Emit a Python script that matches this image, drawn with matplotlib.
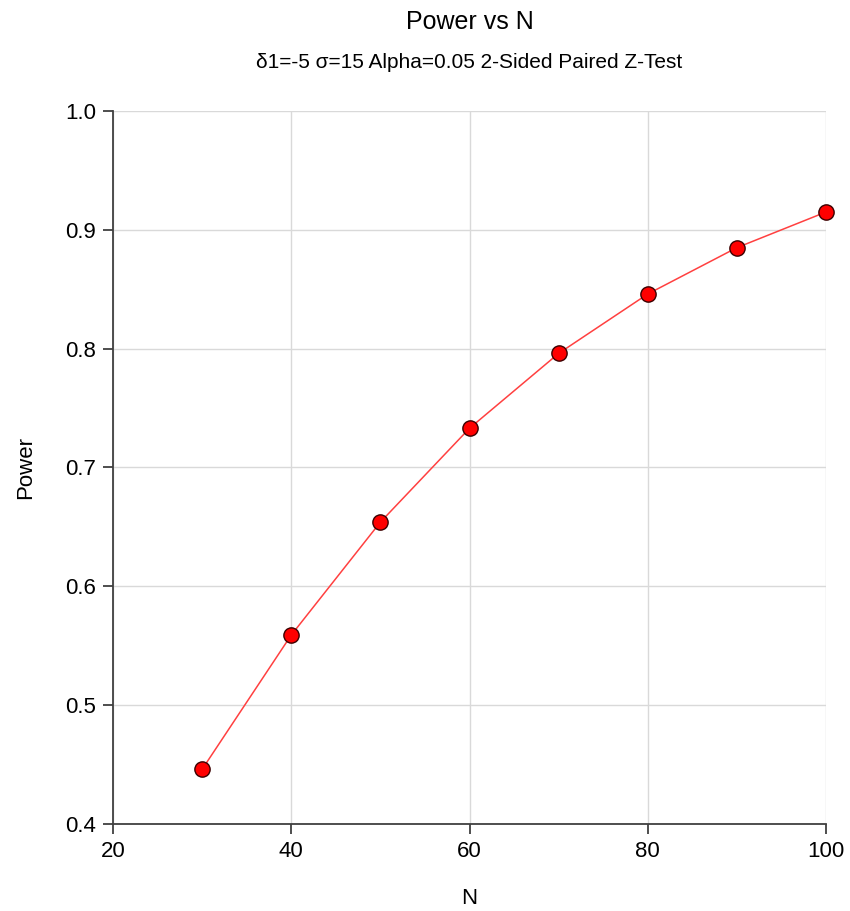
import matplotlib
matplotlib.use("Agg")
import matplotlib.pyplot as plt

# sample sizes and power
n_values = [30, 40, 50, 60, 70, 80, 90, 100]
power = [0.446, 0.559, 0.654, 0.733, 0.796, 0.846, 0.885, 0.915]

x_ticks = [20, 40, 60, 80, 100]
y_ticks = [0.4, 0.5, 0.6, 0.7, 0.8, 0.9, 1.0]

plt.rcParams['font.family'] = ['Liberation Sans', 'DejaVu Sans']

fig = plt.figure(figsize=(8.5, 9.11), dpi=100)
ax = fig.add_axes([113/850, 1 - 824/911, (826-113)/850, (824-111)/911])

ax.plot(n_values, power, color='#ff4040', linewidth=1.1,
        marker='o', markersize=11, markerfacecolor='#ff0000',
        markeredgecolor='#3a0000', markeredgewidth=1.0, zorder=3, clip_on=False)

ax.set_xlim(20, 100)
ax.set_ylim(0.4, 1.0)
ax.set_xticks(x_ticks)
ax.set_yticks(y_ticks)
ax.set_yticklabels(['%.1f' % v for v in y_ticks])
ax.grid(True, color='#d9d9d9', linewidth=1.0)
ax.set_axisbelow(True)

for s in ['top', 'right']:
    ax.spines[s].set_visible(False)
for s in ['left', 'bottom']:
    ax.spines[s].set_color('#404040')
    ax.spines[s].set_linewidth(1.3)

ax.tick_params(direction='out', length=7, width=1.3, color='#404040',
               labelsize=16, pad=5)

ax.set_xlabel('N', fontsize=16, labelpad=19)
ax.set_ylabel('Power', fontsize=16, labelpad=21)

# titles are centred over the plot area, not the figure
cx = (113 + 826) / 2 / 850
fig.text(cx, 1 - 22/911, 'Power vs N', ha='center', va='center', fontsize=18)
fig.text(cx, 1 - 62/911, 'δ1=-5 σ=15 Alpha=0.05 2-Sided Paired Z-Test',
         ha='center', va='center', fontsize=15)

plt.savefig("out.png")
